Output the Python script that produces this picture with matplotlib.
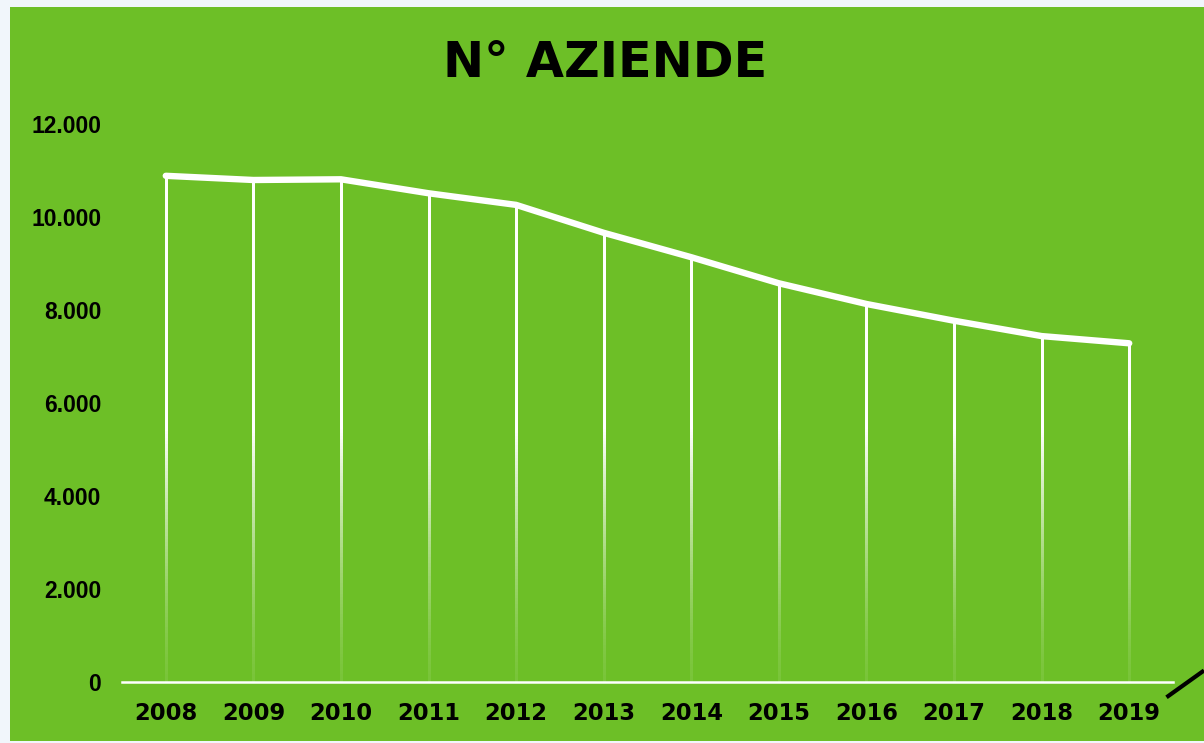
import numpy as np
import matplotlib
matplotlib.use("Agg")
import matplotlib.pyplot as plt
from matplotlib.collections import LineCollection
from matplotlib.patches import Rectangle
from matplotlib.lines import Line2D
from matplotlib.ticker import FuncFormatter
from matplotlib import font_manager as fm
from matplotlib.colors import to_rgb

# ---- data ----
years = ["2008", "2009", "2010", "2011", "2012", "2013",
         "2014", "2015", "2016", "2017", "2018", "2019"]
aziende = [10880, 10790, 10805, 10505, 10255, 9655,
           9130, 8570, 8125, 7765, 7435, 7280]
y_ticks = [0, 2000, 4000, 6000, 8000, 10000, 12000]
title = "N° AZIENDE"

GREEN = "#6dbf27"
BG = "#f1f6fb"

# locate regular-width Liberation Sans Bold (avoid Narrow)
lib_bold = None
for f in fm.fontManager.ttflist:
    if f.name == "Liberation Sans" and f.weight in (700, "bold") and f.style == "normal" \
            and "Narrow" not in f.fname:
        lib_bold = f.fname
        break
if lib_bold:
    ylab_prop = fm.FontProperties(fname=lib_bold, size=16.5)
else:
    ylab_prop = fm.FontProperties(family="DejaVu Sans", weight="bold", size=14.5)

W, H = 1204, 743
fig = plt.figure(figsize=(W / 100, H / 100), dpi=100, facecolor=BG)

# green panel
fig.patches.append(Rectangle((10 / W, 1 - 741 / H), (W - 10) / W, (741 - 7) / H,
                             transform=fig.transFigure, facecolor=GREEN,
                             edgecolor="none", zorder=-10))

ax = fig.add_axes([122 / W, 1 - 682 / H, 1051 / W, (682 - 123.7) / H])
ax.set_zorder(1)
ax.set_facecolor("none")
x = np.arange(len(years))
ax.set_xlim(-0.5, len(years) - 0.5)
ax.set_ylim(0, 12000)

# gradient drop lines (opaque blend of green -> white)
g = np.array(to_rgb(GREEN))
for xi, v in zip(x, aziende):
    n = 150
    ys = np.linspace(0, v, n + 1)
    segs = [[(xi, ys[i]), (xi, ys[i + 1])] for i in range(n)]
    mid = (ys[:-1] + ys[1:]) / 2
    a = 0.08 + 0.92 * np.clip(mid / 5500, 0, 1) ** 1.5
    cols = g[None, :] * (1 - a[:, None]) + a[:, None]
    lc = LineCollection(segs, colors=cols, linewidths=2.0, capstyle="projecting",
                        antialiaseds=False, zorder=2)
    ax.add_collection(lc)

ax.plot(x, aziende, color="white", lw=4.6, solid_capstyle="round",
        solid_joinstyle="round", zorder=3, clip_on=False)

for s in ["top", "right", "left"]:
    ax.spines[s].set_visible(False)
ax.spines["bottom"].set_color("white")
ax.spines["bottom"].set_linewidth(1.8)
ax.spines["bottom"].set_zorder(4)

ax.set_xticks(x)
ax.set_xticklabels(years, fontfamily="DejaVu Sans", fontweight="bold",
                   fontsize=16.3, color="black")
ax.set_yticks(y_ticks)
ax.yaxis.set_major_formatter(FuncFormatter(lambda v, p: f"{int(v):,}".replace(",", ".")))
for lab in ax.get_yticklabels():
    lab.set_fontproperties(ylab_prop)
    lab.set_color("black")
ax.tick_params(axis="x", length=0, pad=14.5)
ax.tick_params(axis="y", length=0, pad=15)

fig.text(605.5 / W, 1 - 76.7 / H, title, ha="center", va="baseline",
         fontfamily="DejaVu Sans", fontweight="bold", fontsize=35.5, color="black")

# small black stroke at the lower right corner
fig.add_artist(Line2D([1166.5 / W, 1204 / W], [1 - 697.3 / H, 1 - 670.5 / H],
                      transform=fig.transFigure, color="black", lw=3.0,
                      solid_capstyle="butt", zorder=5))

fig.savefig("out.png", dpi=100, facecolor=BG)
